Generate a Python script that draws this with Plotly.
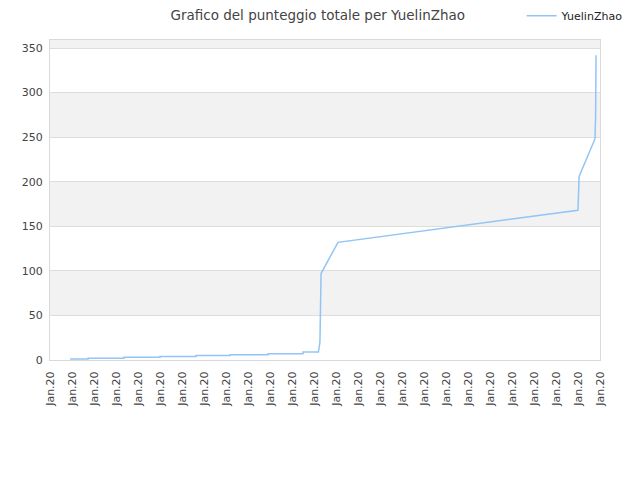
import plotly.graph_objects as go

# score history (x in axis-tick units, y = total score)
x_pos = [0.91, 1.73, 1.73, 3.36, 3.36, 5.0, 5.0, 6.64, 6.64, 8.18, 8.18,
         9.91, 9.91, 11.5, 11.5, 12.2, 12.27, 12.32, 13.09, 24.0, 24.05,
         24.77, 24.8, 24.82]
score = [1, 1, 2, 2, 3, 3, 4, 4, 5, 5, 6,
         6, 7, 7, 9, 9, 20, 97, 132, 168, 206,
         248, 272, 342]

tick_vals = list(range(26))
tick_text = ["Jan.20"] * 26
y_ticks = [0, 50, 100, 150, 200, 250, 300, 350]

# alternating grey bands
band_edges = [(50, 100), (150, 200), (250, 300), (350, 359)]

fig = go.Figure()

fig.add_trace(go.Scatter(
    x=x_pos,
    y=score,
    mode="lines",
    line=dict(color="#92c5f5", width=1.5),
    name="YuelinZhao",
))

for y0, y1 in band_edges:
    fig.add_shape(type="rect", xref="paper", yref="y", x0=0, x1=1, y0=y0, y1=y1,
                  fillcolor="#f2f2f2", line=dict(width=0), layer="below")

fig.update_xaxes(
    range=[0, 25],
    tickvals=tick_vals,
    ticktext=tick_text,
    tickangle=-90,
    showgrid=False,
    showline=True,
    linecolor="#d9d9d9",
    mirror=True,
    ticks="",
    ticklabelstandoff=6,
    tickfont=dict(size=11, color="#444444"),
    zeroline=False,
    automargin=False,
)
fig.update_yaxes(
    range=[0, 359],
    tickvals=y_ticks,
    showgrid=True,
    gridcolor="#dddddd",
    showline=True,
    linecolor="#d9d9d9",
    mirror=True,
    ticks="",
    ticklabelstandoff=4,
    tickfont=dict(size=11, color="#444444"),
    zeroline=False,
    automargin=False,
)

# page body adds an 8px offset, so margins are shifted to compensate
fig.update_layout(
    width=640,
    height=480,
    margin=dict(l=42, r=48, t=32, b=128, autoexpand=False),
    paper_bgcolor="white",
    plot_bgcolor="white",
    font=dict(family="DejaVu Sans", color="#444444"),
    title=dict(text="Grafico del punteggio totale per YuelinZhao",
               x=0.484, xanchor="center", y=0.984, yanchor="middle",
               font=dict(size=13.5, color="#444444")),
    showlegend=True,
    legend=dict(x=1.052, xanchor="right", y=1.076, yanchor="middle",
                font=dict(size=11, color="#222222"), itemwidth=30,
                bgcolor="rgba(0,0,0,0)"),
)

fig.write_html("out.html")
